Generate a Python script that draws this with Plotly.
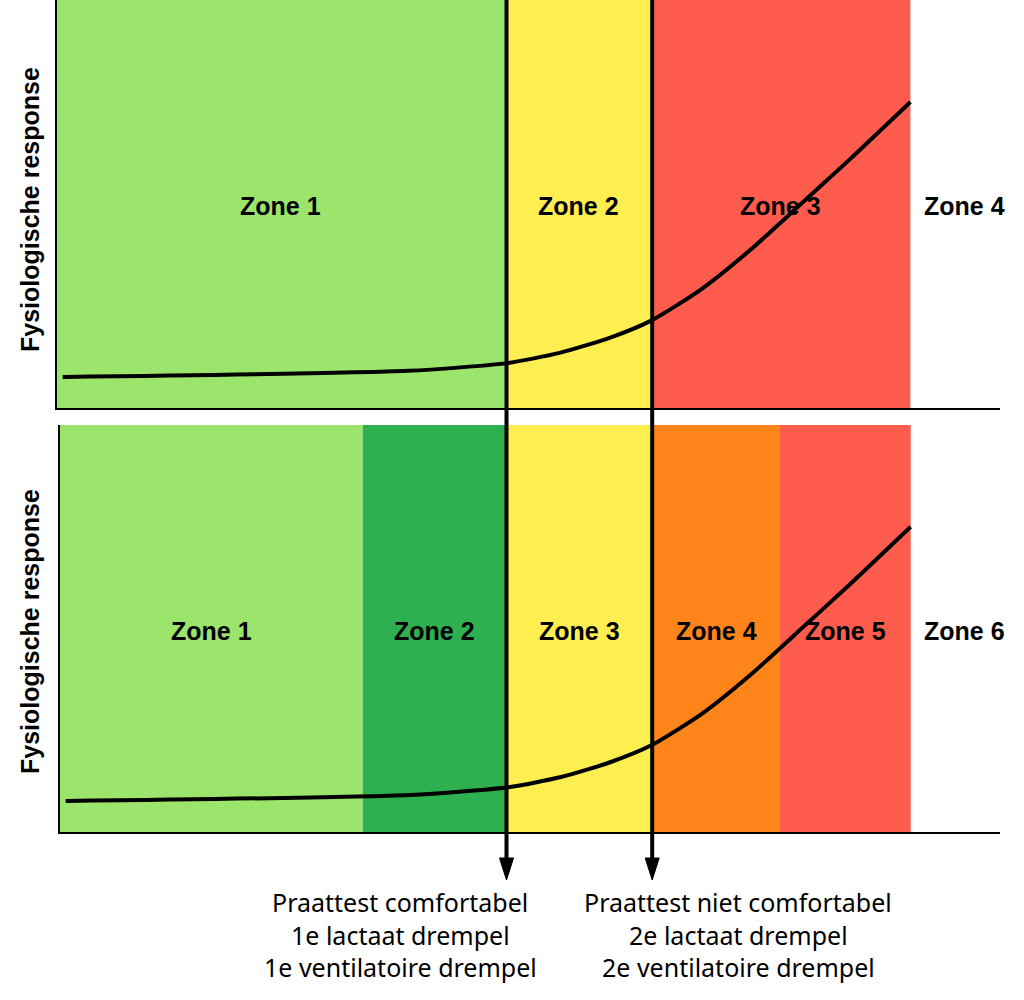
import plotly.graph_objects as go

# ---------------- data ----------------
# intensity axis 0..100, response axis 0..100
curve_x = [0.6, 37.2, 47.7, 53.3, 58.6, 62.9, 68.2, 73.5, 78.8, 84.1, 90.5]
curve_y = [7.6, 9.1, 11.0, 13.5, 17.2, 21.3, 28.9, 38.7, 49.8, 61.0, 75.0]

thresholds = [47.5, 63.0]
top_edges = [0, 47.5, 63.0, 90.5]
top_colors = ["#9BE56C", "#FFEE50", "#FF5C4D"]
top_labels = ["Zone 1", "Zone 2", "Zone 3", "Zone 4"]

bot_edges = [0, 32.2, 47.5, 63.0, 76.6, 90.5]
bot_colors = ["#9BE56C", "#2EB050", "#FFEE50", "#FF851B", "#FF5C4D"]
bot_labels = ["Zone 1", "Zone 2", "Zone 3", "Zone 4", "Zone 5", "Zone 6"]
outer_label_x = 96.2

y_title = "Fysiologische response"
left_text = ["Praattest comfortabel", "1e lactaat drempel", "1e ventilatoire drempel"]
right_text = ["Praattest niet comfortabel", "2e lactaat drempel", "2e ventilatoire drempel"]

# ---------------- figure ----------------
W, H = 1024, 1000
fig = go.Figure()

for xa, ya in [("x", "y"), ("x2", "y2")]:
    fig.add_trace(go.Scatter(x=curve_x, y=curve_y, mode="lines", xaxis=xa, yaxis=ya,
                             line=dict(color="black", width=4, shape="spline", smoothing=0.6),
                             showlegend=False, hoverinfo="skip"))

shapes = []
annotations = []
label_font = dict(family="Liberation Sans, Arial", size=25, color="black")

def zones(edges, colors, labels, xr, yr):
    for i, c in enumerate(colors):
        shapes.append(dict(type="rect", xref=xr, yref=yr, x0=edges[i], x1=edges[i + 1],
                           y0=0, y1=100, fillcolor=c, line=dict(width=0), layer="below"))
        annotations.append(dict(xref=xr, yref=yr, x=(edges[i] + edges[i + 1]) / 2, y=49.5,
                                text="<b>%s</b>" % labels[i], showarrow=False, font=label_font))
    annotations.append(dict(xref=xr, yref=yr, x=outer_label_x, y=49.5,
                            text="<b>%s</b>" % labels[-1], showarrow=False, font=label_font))

zones(top_edges, top_colors, top_labels, "x", "y")
zones(bot_edges, bot_colors, bot_labels, "x2", "y2")

# threshold arrows
tip_y = 1 - 880 / H
for t in thresholds:
    shapes.append(dict(type="line", xref="x2", yref="paper", x0=t, x1=t, y0=1.0, y1=tip_y + 0.015,
                       line=dict(color="black", width=4)))
    shapes.append(dict(type="path", xref="x2", yref="paper", xsizemode="pixel", ysizemode="pixel",
                       xanchor=t, yanchor=tip_y, path="M-7,22 L7,22 L0,0 Z",
                       fillcolor="black", line=dict(color="black", width=1)))

# axis titles
for yc in [1 - 210 / H, 1 - 632 / H]:
    annotations.append(dict(xref="paper", yref="paper", x=30 / W, y=yc, text="<b>%s</b>" % y_title,
                            textangle=-90, showarrow=False, font=label_font,
                            xanchor="center", yanchor="middle"))

# bottom explanatory text
text_font = dict(family="Noto Sans", size=25, color="black")
line_ys = [902, 935, 967]
for xc, lines in [(400, left_text), (738, right_text)]:
    for ly, s in zip(line_ys, lines):
        annotations.append(dict(xref="paper", yref="paper", x=xc / W, y=1 - ly / H, text=s,
                                showarrow=False, font=text_font, xanchor="center", yanchor="middle"))

ax_common = dict(range=[0, 100], showgrid=False, zeroline=False, showticklabels=False, ticks="",
                 showline=True, linecolor="black", linewidth=2, fixedrange=True)

fig.update_layout(
    width=W, height=H, margin=dict(l=0, r=0, t=0, b=0),
    paper_bgcolor="white", plot_bgcolor="rgba(0,0,0,0)",
    xaxis=dict(domain=[57 / W, 1000 / W], anchor="y", **ax_common),
    yaxis=dict(domain=[1 - 408 / H, 1.0], anchor="x", **ax_common),
    xaxis2=dict(domain=[60 / W, 1000 / W], anchor="y2", **ax_common),
    yaxis2=dict(domain=[1 - 832 / H, 1 - 425 / H], anchor="x2", **ax_common),
    shapes=shapes, annotations=annotations, showlegend=False,
)

fig.write_html("out.html", config={"displayModeBar": False},
               post_script="document.body.style.margin='0';")
